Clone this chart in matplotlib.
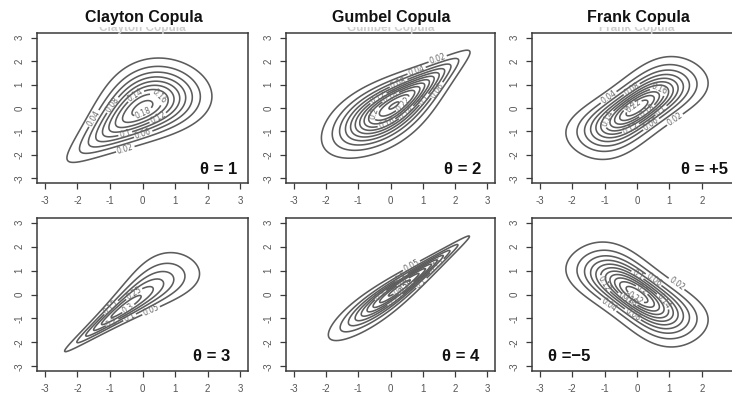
import math
import numpy as np
import matplotlib
matplotlib.use("Agg")
import matplotlib.pyplot as plt
from matplotlib.patches import Rectangle

# ---- data ----
titles = ["Clayton Copula", "Gumbel Copula", "Frank Copula"]
copula_top = ["clayton", "gumbel", "frank"]
copula_bottom = ["clayton", "gumbel", "frank"]
theta_top = [1, 2, 5]
theta_bottom = [3, 4, -5]
theta_labels_top = ["θ = 1", "θ = 2", "θ = +5"]
theta_labels_bottom = ["θ = 3", "θ = 4", "θ =−5"]
level_step_top = [0.02, 0.02, 0.02]
level_step_bottom = [0.05, 0.05, 0.02]
tick_values = [-3, -2, -1, 0, 1, 2, 3]
axis_limit = 3.24

# ---- density of copula with N(0,1) margins ----
grid = np.linspace(-3.3, 3.3, 401)
phi1 = np.exp(-grid ** 2 / 2) / math.sqrt(2 * math.pi)
Phi1 = np.array([0.5 * (1 + math.erf(g / math.sqrt(2))) for g in grid])
X, Y = np.meshgrid(grid, grid)
U, V = np.meshgrid(Phi1, Phi1)
PX, PY = np.meshgrid(phi1, phi1)


def copula_density(kind, th):
    if kind == "clayton":
        c = (1 + th) * (U * V) ** (-th - 1) * (U ** -th + V ** -th - 1) ** (-2 - 1 / th)
    elif kind == "gumbel":
        xt, yt = -np.log(U), -np.log(V)
        s = xt ** th + yt ** th
        A = s ** (1 / th)
        C = np.exp(-A)
        c = C / (U * V) * (xt * yt) ** (th - 1) * s ** (-2 + 1 / th) * (A + th - 1)
    else:
        e = 1 - np.exp(-th)
        c = th * e * np.exp(-th * (U + V)) / (e - (1 - np.exp(-th * U)) * (1 - np.exp(-th * V))) ** 2
    return c * PX * PY


W, H = 732, 398
fig = plt.figure(figsize=(W / 100, H / 100), dpi=100)

cols_px = [(37, 211), (286, 209), (532, 210)]
rows_px = [(33, 150), (218, 153)]

line_col = "#5c5c5c"
frame_col = "#3a3a3a"
tick_col = "#555555"
txt_font = ["Liberation Sans", "DejaVu Sans"]
narrow_font = ["Liberation Sans Narrow", "Liberation Sans", "DejaVu Sans"]

label_pos_top = [(0.948, 0.087, "right"), (0.933, 0.087, "right"), (0.933, 0.087, "right")]
label_pos_bottom = [(0.915, 0.092, "right"), (0.923, 0.098, "right"), (0.076, 0.092, "left")]

for r, (kinds, thetas, labels, steps, lpos) in enumerate([
        (copula_top, theta_top, theta_labels_top, level_step_top, label_pos_top),
        (copula_bottom, theta_bottom, theta_labels_bottom, level_step_bottom, label_pos_bottom)]):
    top, h = rows_px[r]
    for c in range(3):
        left, w = cols_px[c]
        ax = fig.add_axes([left / W, 1 - (top + h) / H, w / W, h / H])
        Z = copula_density(kinds[c], thetas[c])
        step = steps[c]
        levels = np.arange(step, np.nanmax(Z), step)
        cs = ax.contour(X, Y, Z, levels=levels, colors=line_col, linewidths=1.15)
        ax.clabel(cs, fmt="%g", fontsize=5.5, inline=True, inline_spacing=1, colors="#666666")
        ax.set_xlim(-axis_limit, axis_limit)
        ax.set_ylim(-3.2, 3.2)
        ax.set_xticks(tick_values)
        ax.set_yticks(tick_values)
        ax.set_xticklabels([str(t) for t in tick_values], fontsize=7, color=tick_col, family=txt_font)
        ax.set_yticklabels([str(t) for t in tick_values], fontsize=7, color=tick_col,
                           family=txt_font, rotation=90, va="center")
        ax.tick_params(direction="out", length=4, width=0.9, color=frame_col)
        ax.tick_params(axis="x", pad=5)
        ax.tick_params(axis="y", pad=5)
        for sp in ax.spines.values():
            sp.set_color(frame_col)
            sp.set_linewidth(1.1)
        x, y, ha = lpos[c]
        ax.text(x, y, labels[c], transform=ax.transAxes, ha=ha, va="center",
                fontsize=12, fontweight="bold", color="#111111", family=txt_font)

        if r == 0:
            cx = (left + w / 2) / W
            # faint partially hidden original title
            fig.text(cx, 1 - 28.5 / H, titles[c], ha="center", va="center", fontsize=8.5,
                     fontweight="bold", color="#cfcfcf", family=txt_font, zorder=1)

fig.patches.append(Rectangle((0, 1 - 27 / H), 1, 27 / H, transform=fig.transFigure,
                             facecolor="white", edgecolor="none", zorder=2))
for c in range(3):
    left, w = cols_px[c]
    cx = (left + w / 2 + 1) / W
    fig.text(cx, 1 - 17.5 / H, titles[c], ha="center", va="center", fontsize=11.5,
             fontweight="bold", color="#111111", family=narrow_font, zorder=3)

fig.savefig("out.png", dpi=100)
